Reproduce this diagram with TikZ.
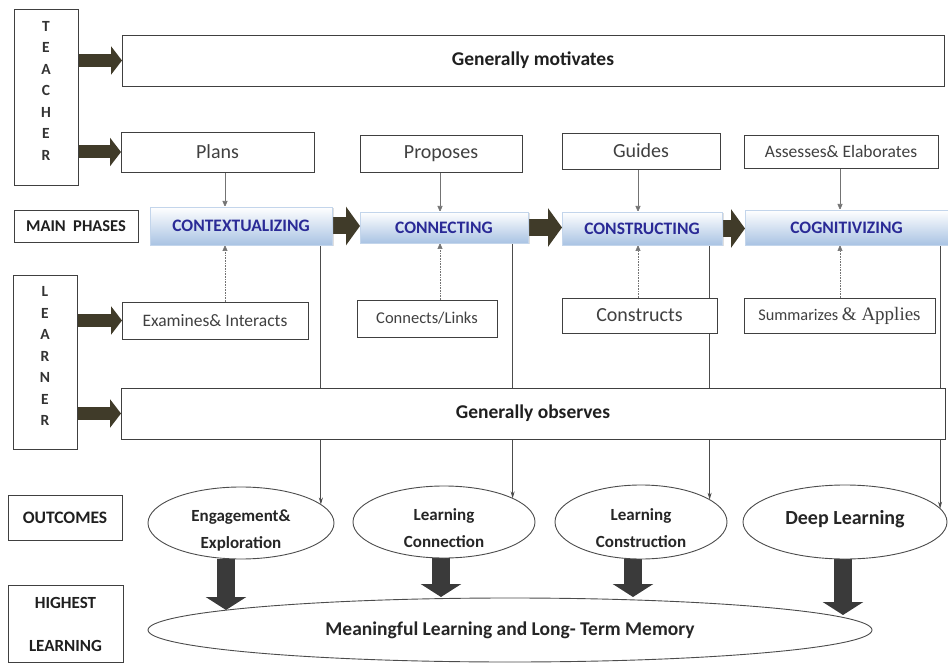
\documentclass[tikz,border=0pt]{standalone}
\usepackage{fontspec}
\setmainfont{Carlito}
\newfontfamily\timesf{Liberation Serif}
\usetikzlibrary{arrows.meta,shapes.geometric,backgrounds,shadows}
\definecolor{blkc}{HTML}{403B29}
\definecolor{downc}{HTML}{3A3A3A}
\definecolor{phb}{HTML}{A9C3E3}
\definecolor{phtext}{HTML}{2A2A96}
\newcommand{\twol}[1]{\raisebox{-11pt}[0pt][0pt]{\begin{tabular}{@{}c@{}}#1\end{tabular}}}
\begin{document}
\begin{tikzpicture}[x=1pt,y=-1pt,
 box/.style={draw=black!75, line width=0.9pt, fill=white, inner sep=0pt, outer sep=0pt, text=black!75, align=center},
 txt/.style={box, font=\fontsize{20}{22}\selectfont},
 stxt/.style={box, font=\fontsize{17}{19}\selectfont},
 lbl/.style={box, font=\bfseries\fontsize{17.5}{20}\selectfont, text=black!88},
 big/.style={box, font=\bfseries\fontsize{19.5}{22}\selectfont, text=black!88},
 vlet/.style={inner sep=0pt, align=center, font=\bfseries\fontsize{15.5}{21.5}\selectfont, text=black!80},
 phase/.style={inner sep=0pt, outer sep=0pt, top color=white, bottom color=phb, draw=phb!70!white, line width=0.4pt, font=\bfseries\fontsize{17.5}{20}\selectfont, text=phtext, drop shadow={opacity=0.25,shadow xshift=1.5pt,shadow yshift=-1.5pt}},
 outc/.style={ellipse, draw=black!70, line width=0.9pt, fill=white, inner sep=0pt, outer sep=0pt, font=\bfseries\fontsize{17}{27}\selectfont, text=black!85, align=center},
 side/.style={blkc, line width=13pt, -{Triangle[width=28pt,length=11pt]}},
 phar/.style={blkc, line width=17pt, -{Triangle[width=38pt,length=14pt]}},
 downar/.style={downc, line width=18pt, -{Triangle[width=40pt,length=13pt]}},
 tdown/.style={black!55, line width=0.6pt, -{Triangle[width=5pt,length=6pt]}},
 tup/.style={black!55, line width=0.6pt, densely dotted, -{Triangle[width=5pt,length=6pt]}},
 longc/.style={black!70, line width=0.9pt, -{Stealth[width=4pt,length=7pt]}}
]
\useasboundingbox (0,0) rectangle (948,663);
% left column
\node[box, minimum width=64pt, minimum height=176pt] (teacher) at (46,97) {};
\node[vlet] (tlet) at (46,90.5) {T\\E\\A\\C\\H\\E\\R};
\node[box, minimum width=64pt, minimum height=174pt] (learner) at (45,362) {};
\node[vlet] (llet) at (45,356) {L\\E\\A\\R\\N\\E\\R};
\node[lbl, minimum width=124pt, minimum height=32pt, font=\bfseries\fontsize{16.5}{18}\selectfont] (mainph) at (76,226) {MAIN\ \ PHASES};
\node[lbl, minimum width=114pt, minimum height=45pt] (outcomes) at (65,517.5) {OUTCOMES};
\node[lbl, minimum width=115pt, minimum height=77pt, font=\bfseries\fontsize{17}{43}\selectfont] (highest) at (65.5,624) {HIGHEST\\LEARNING};
% teacher row
\node[big, minimum width=822pt, minimum height=51pt] (motiv) at (533,60.5) {Generally motivates};
\node[txt, minimum width=193pt, minimum height=40pt] (plans) at (217.5,152) {Plans};
\node[txt, minimum width=162pt, minimum height=37pt] (proposes) at (441,153.5) {Proposes};
\node[txt, minimum width=158pt, minimum height=36pt] (guides) at (641,151) {Guides};
\node[stxt, minimum width=194pt, minimum height=33pt, font=\fontsize{17.5}{19}\selectfont] (assesses) at (841,151.5) {Assesses\& Elaborates};
% phases
\node[phase, minimum width=182pt, minimum height=38pt] (ctx) at (241,226) {CONTEXTUALIZING};
\node[phase, minimum width=168pt, minimum height=31pt] (con) at (444,227.5) {CONNECTING};
\node[phase, minimum width=160pt, minimum height=33pt] (cst) at (642,228.5) {CONSTRUCTING};
\node[phase, minimum width=203pt, minimum height=35pt] (cog) at (846.5,227.5) {COGNITIVIZING};
% learner row
\node[stxt, minimum width=186pt, minimum height=37pt, font=\fontsize{17.5}{19}\selectfont] (examines) at (215,320.5) {Examines\& Interacts};
\node[stxt, minimum width=140pt, minimum height=37pt, font=\fontsize{16.5}{18}\selectfont] (connects) at (427,318.5) {Connects/Links};
\node[txt, minimum width=155pt, minimum height=35pt] (constructs) at (639.5,315.5) {Constructs};
\node[stxt, minimum width=191pt, minimum height=35pt] (summ) at (839.5,315.5) {{\fontsize{16.3}{18}\selectfont Summarizes }{\timesf\fontsize{19}{20}\selectfont \& Applies}};
\node[big, minimum width=824pt, minimum height=51pt] (observes) at (533,413.5) {Generally observes};
% outcomes
\node[outc, minimum width=186pt, minimum height=72pt] (e1) at (241,523) {\twol{Engagement\&\\Exploration}};
\node[outc, minimum width=182pt, minimum height=72pt] (e2) at (444,522) {\twol{Learning\\Connection}};
\node[outc, minimum width=172pt, minimum height=74pt] (e3) at (641,522) {\twol{Learning\\Construction}};
\node[outc, minimum width=204pt, minimum height=74pt, font=\bfseries\fontsize{20}{22}\selectfont] (e4) at (845,522) {\raisebox{-2pt}[0pt][0pt]{Deep Learning}};
\node[outc, minimum width=724pt, minimum height=64pt, font=\bfseries\fontsize{19.5}{22}\selectfont] (memory) at (510,630) {Meaningful Learning and Long- Term Memory};
% coordinates
\coordinate (x1) at (225,0);
\coordinate (x2) at (440,0);
\coordinate (x3) at (638,0);
\coordinate (x4) at (840,0);
\coordinate (t1) at (226,610);
\coordinate (t2) at (441,597);
\coordinate (t3) at (633,597);
\coordinate (t4) at (843,615);
\begin{scope}[on background layer]
\draw[side] (teacher.east |- motiv.west) -- (motiv.west);
\draw[side] (teacher.east |- plans.west) -- (plans.west);
\draw[side] (learner.east |- examines.west) -- (examines.west);
\draw[side] (learner.east |- observes.west) -- (observes.west);
\draw[phar] (ctx.east) -- (ctx.east -| con.west);
\draw[phar] (con.east) -- (con.east -| cst.west);
\draw[phar] (cst.east) -- (cst.east -| cog.west);
\draw[tdown] (plans.south -| x1) -- (ctx.north -| x1);
\draw[tdown] (proposes.south -| x2) -- (con.north -| x2);
\draw[tdown] (guides.south -| x3) -- (cst.north -| x3);
\draw[tdown] (assesses.south -| x4) -- (cog.north -| x4);
\draw[tup] (examines.north -| x1) -- (ctx.south -| x1);
\draw[tup] (connects.north -| x2) -- (con.south -| x2);
\draw[tup] (constructs.north -| x3) -- (cst.south -| x3);
\draw[tup] (summ.north -| x4) -- (cog.south -| x4);
\draw[longc] (e1.13 |- ctx.south) -- (e1.13);
\draw[longc] (e2.19 |- con.south) -- (e2.19);
\draw[longc] (e3.18 |- cst.south) -- (e3.18);
\draw[longc] (e4.8 |- cog.south) -- (e4.8);
\draw[downar] (e1.south -| t1) -- (t1);
\draw[downar] (e2.south -| t2) -- (t2);
\draw[downar] (e3.south -| t3) -- (t3);
\draw[downar] (e4.south -| t4) -- (t4);
\end{scope}
\end{tikzpicture}
\end{document}
